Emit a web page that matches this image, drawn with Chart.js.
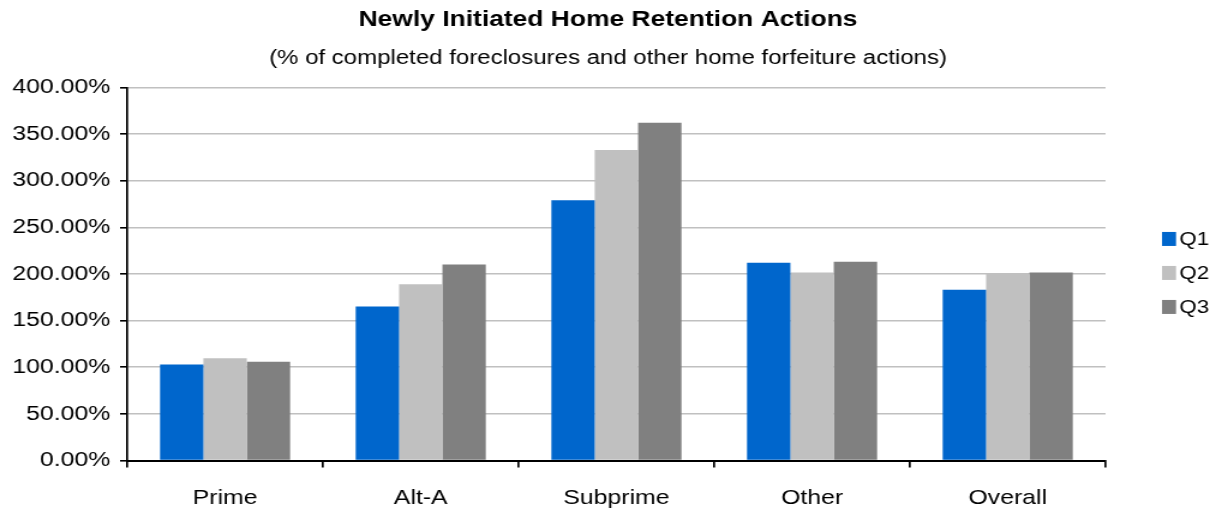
<!DOCTYPE html>
<html>
<head>
<meta charset="utf-8">
<script src="https://cdn.jsdelivr.net/npm/chart.js@4.4.0/dist/chart.umd.min.js"></script>
<style>
html,body{margin:0;padding:0;background:#fff;overflow:hidden;}
#wrap{width:1013px;height:510px;transform:scaleX(1.2004);transform-origin:0 0;}
canvas{display:block;}
</style>
</head>
<body>
<div id="wrap"><canvas id="c" width="1013" height="510"></canvas></div>
<script>
const categories = ["Prime", "Alt-A", "Subprime", "Other", "Overall"];
const q1 = [103, 165, 279, 212, 183];
const q2 = [109.5, 189, 333, 201.5, 200.5];
const q3 = [106, 210, 362, 213, 201.5];
const seriesNames = ["Q1", "Q2", "Q3"];
const seriesColors = ["#0066CC", "#C0C0C0", "#808080"];
const yTicks = [0, 50, 100, 150, 200, 250, 300, 350, 400];

const FONT = "'Liberation Sans', Arial, sans-serif";
Chart.defaults.font.family = FONT;
Chart.defaults.color = '#000';

const sideLegend = {
  id: 'sideLegend',
  afterDraw(chart) {
    const ctx = chart.ctx;
    const area = chart.chartArea;
    const mid = (area.top + area.bottom) / 2 - 1;
    const n = chart.data.datasets.length;
    const step = 34;
    ctx.save();
    ctx.font = "18.5px " + FONT;
    ctx.textBaseline = 'middle';
    ctx.textAlign = 'left';
    chart.data.datasets.forEach((ds, i) => {
      const cy = mid + (i - (n - 1) / 2) * step;
      const x = area.right + 47;
      ctx.fillStyle = ds.backgroundColor;
      ctx.fillRect(x, cy - 7, 11.7, 14);
      ctx.fillStyle = '#000';
      ctx.fillText(ds.label, x + 14.5, cy + 1);
    });
    ctx.restore();
  }
};

new Chart(document.getElementById('c'), {
  type: 'bar',
  data: {
    labels: categories,
    datasets: seriesNames.map((name, i) => ({
      label: name,
      data: [q1, q2, q3][i],
      backgroundColor: seriesColors[i]
    }))
  },
  options: {
    responsive: false,
    animation: false,
    devicePixelRatio: 1,
    layout: {padding: 0},
    datasets: {bar: {barPercentage: 1, categoryPercentage: 0.665}},
    plugins: {
      title: {display: true, text: 'Newly Initiated Home Retention Actions', font: {size: 22, weight: 'bold'}, padding: {top: 7, bottom: 0}},
      subtitle: {display: true, text: '(% of completed foreclosures and other home forfeiture actions)', font: {size: 20}, padding: {top: 13, bottom: 17}},
      legend: {display: false},
      tooltip: {enabled: false}
    },
    scales: {
      x: {
        afterFit: (s) => { s.height = 49.5; },
        grid: {drawOnChartArea: false, drawTicks: true, tickLength: 7, tickColor: '#000', lineWidth: 1.7},
        border: {color: '#000', width: 2},
        ticks: {font: {size: 20.7}, padding: 18, maxRotation: 0}
      },
      y: {
        min: 0, max: 400,
        afterFit: (s) => { s.width = 106; },
        afterBuildTicks: (axis) => { axis.ticks = yTicks.map(v => ({value: v})); },
        grid: {color: '#C0C0C0', lineWidth: 1.6, tickLength: 6, tickColor: '#000'},
        border: {color: '#000', width: 1.7},
        ticks: {font: {size: 20.7}, padding: 8, callback: (v) => v.toFixed(2) + '%'}
      },
      legendSpace: {
        position: 'right',
        afterFit: (s) => { s.width = 92; },
        grid: {display: false, drawTicks: false},
        border: {display: false},
        ticks: {display: false}
      }
    }
  },
  plugins: [sideLegend]
});
</script>
</body>
</html>
